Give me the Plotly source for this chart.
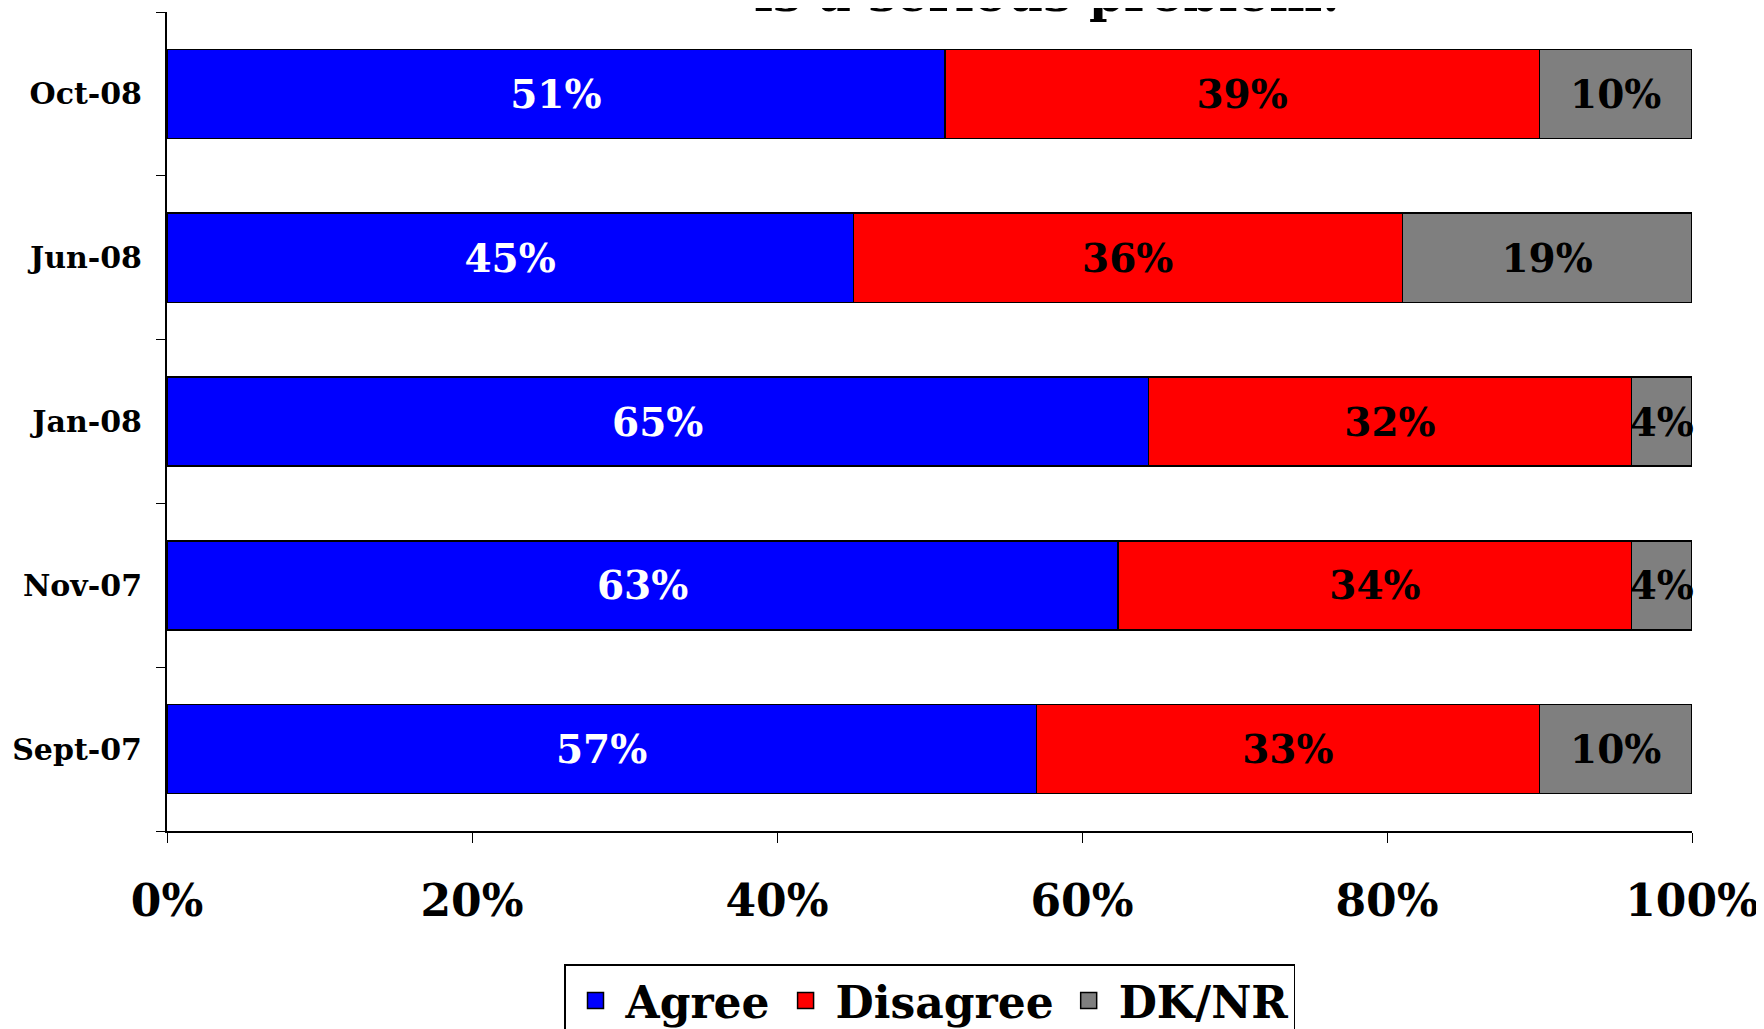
import plotly.graph_objects as go

categories = ["Sept-07", "Nov-07", "Jan-08", "Jun-08", "Oct-08"]
agree = [57, 63, 65, 45, 51]
disagree = [33, 34, 32, 36, 39]
dknr = [10, 4, 4, 19, 10]
x_ticks = [0, 20, 40, 60, 80, 100]
x_tick_labels = ["0%", "20%", "40%", "60%", "80%", "100%"]
title_text = "is a serious problem."

FONT = "DejaVu Serif"

series = [
    ("Agree", agree, "#0000FF", "white"),
    ("Disagree", disagree, "#FF0000", "black"),
    ("DK/NR", dknr, "#7F7F7F", "black"),
]

fig = go.Figure()
for name, vals, color, tcolor in series:
    fig.add_trace(go.Bar(
        y=categories, x=vals, name=name, orientation="h", showlegend=False,
        marker=dict(color=color, line=dict(color="black", width=1.5)),
        text=[f"{v}%" for v in vals],
        texttemplate="%{text}",
        textposition="inside", insidetextanchor="middle", textangle=0,
        textfont=dict(family=FONT, size=39, color=tcolor, weight="bold"),
        constraintext="none",
        cliponaxis=False,
    ))
for name, vals, color, tcolor in series:
    fig.add_trace(go.Scatter(
        x=[None], y=[None], mode="markers", name=name,
        marker=dict(symbol="square", size=30, color=color,
                    line=dict(color="black", width=1.5)),
    ))

fig.update_layout(
    width=1764, height=1029,
    barmode="stack", barnorm="percent", bargap=0.456,
    plot_bgcolor="white", paper_bgcolor="white",
    margin=dict(l=159, r=80, t=4, b=206, autoexpand=False),
    uniformtext=dict(minsize=39, mode="show"),
    showlegend=True,
    legend=dict(
        orientation="h", x=0.5, xanchor="center", y=-0.1624, yanchor="top",
        font=dict(family=FONT, size=44, color="black", weight="bold"),
        bordercolor="black", borderwidth=1.5, bgcolor="white",
        traceorder="normal", itemsizing="trace", itemwidth=50,
    ),
    font=dict(family=FONT, color="black"),
)

fig.update_xaxes(
    range=[0, 100], tickvals=x_ticks, ticktext=x_tick_labels,
    showgrid=False, zeroline=False,
    showline=True, linecolor="black", linewidth=2,
    ticks="outside", ticklen=10, tickcolor="black", tickwidth=1,
    tickfont=dict(family=FONT, size=44, color="black", weight="bold"),
    ticklabelstandoff=20,
)
fig.update_yaxes(
    categoryorder="array", categoryarray=categories,
    showgrid=False, zeroline=False,
    showline=True, linecolor="black", linewidth=2,
    ticks="outside", tickson="boundaries", ticklen=9, tickcolor="black", tickwidth=1,
    tickfont=dict(family=FONT, size=30, color="black", weight="bold"),
    ticklabelstandoff=17,
)

fig.add_annotation(
    text=title_text, xref="paper", yref="paper", x=0.577, y=0.984,
    xanchor="center", yanchor="bottom", showarrow=False,
    font=dict(family=FONT, size=50, color="black", weight="bold"),
)

fig.write_html("out.html")
